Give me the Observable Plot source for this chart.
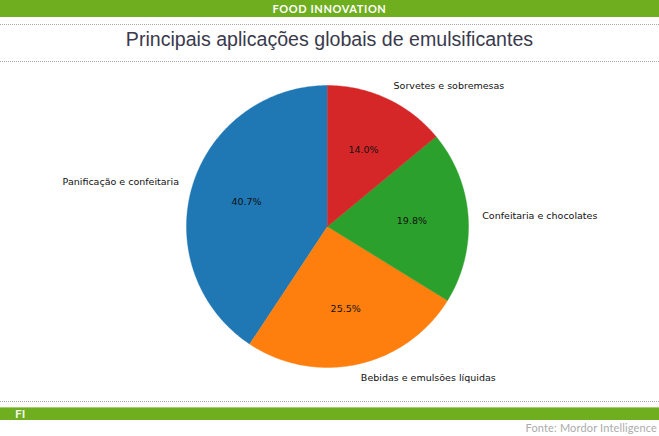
<!DOCTYPE html>
<html>
<head>
<meta charset="utf-8">
<script src="https://cdn.jsdelivr.net/npm/d3@7"></script>
<script src="https://cdn.jsdelivr.net/npm/@observablehq/plot@0.6"></script>
<style>
  html, body { margin: 0; padding: 0; background: #fff; }
  #page { position: relative; width: 659px; height: 436px; overflow: hidden; background: #fff; }
  #hdr { position: absolute; top: 0; left: 0; width: 659px; height: 17px; background: #6fae1f;
         color: #fff; font: bold 11px Lato, "DejaVu Sans", sans-serif; text-align: center; line-height: 17px; letter-spacing: 0.6px; }
  .dot { position: absolute; left: 0; width: 659px; height: 0; border-top: 1px dotted #a8a8a8; }
  #title { position: absolute; top: 30px; left: 0; width: 659px; text-align: center;
           font: 19.6px "Liberation Sans", Arial, sans-serif; line-height: 19.6px; color: #3a3a4c; }
  #chart { position: absolute; top: 62px; left: 0; }
  #ftr { position: absolute; top: 407px; left: 0; width: 659px; height: 13px; background: #6fae1f;
         border-top: 1px solid #a6cf6c; box-sizing: border-box; }
  #fi { position: absolute; left: 15px; top: 0px; color: rgba(255,255,255,0.92); font: bold 12px Lato, sans-serif; line-height: 12px; }
  #src { position: absolute; top: 422px; right: 2px; color: #ababab; font: 11px Lato, sans-serif; line-height: 11px; letter-spacing: 0.15px; }
</style>
</head>
<body>
<div id="page">
  <div id="hdr">FOOD INNOVATION</div>
  <div class="dot" style="top:24px"></div>
  <div id="title">Principais aplicações globais de emulsificantes</div>
  <div class="dot" style="top:61px"></div>
  <div id="chart"></div>
  <div class="dot" style="top:401px"></div>
  <div id="ftr"><span id="fi">FI</span></div>
  <div id="src">Fonte: Mordor Intelligence</div>
</div>
<script>
const categories = ["Panificação e confeitaria", "Bebidas e emulsões líquidas", "Confeitaria e chocolates", "Sorvetes e sobremesas"];
const shares = [40.7, 25.5, 19.8, 14.0];
const colors = ["#1f77b4", "#ff7f0e", "#2ca02c", "#d62728"];

const total = d3.sum(shares);
const rad = Math.PI / 180;
let cum = 0;
const slices = categories.map((c, i) => {
  const a0 = 90 + 360 * cum / total;
  cum += shares[i];
  const a1 = 90 + 360 * cum / total;
  return { cat: c, share: shares[i], a0, a1, mid: (a0 + a1) / 2 };
});

const pts = [];
for (const s of slices) {
  pts.push({ cat: s.cat, x: 0, y: 0 });
  const n = Math.ceil((s.a1 - s.a0) / 0.5);
  for (let k = 0; k <= n; k++) {
    const a = (s.a0 + (s.a1 - s.a0) * k / n) * rad;
    pts.push({ cat: s.cat, x: Math.cos(a), y: Math.sin(a) });
  }
  pts.push({ cat: s.cat, x: 0, y: 0 });
}

const pctLabels = slices.map(s => ({ x: 0.6 * Math.cos(s.mid * rad), y: 0.6 * Math.sin(s.mid * rad), t: s.share.toFixed(1) + "%" }));
const catLabels = slices.map(s => ({ x: 1.1 * Math.cos(s.mid * rad), y: 1.1 * Math.sin(s.mid * rad), t: s.cat, right: Math.cos(s.mid * rad) >= 0 }));

const font = { fontFamily: "DejaVu Sans", fontSize: 9.5, fill: "#111" };

const chart = Plot.plot({
  width: 659,
  height: 338,
  margin: 0,
  x: { domain: [-1, 1], range: [186, 468], axis: null },
  y: { domain: [-1, 1], range: [305, 23], axis: null },
  color: { domain: categories, range: colors },
  style: { background: "transparent", overflow: "visible" },
  marks: [
    Plot.line(pts, { x: "x", y: "y", z: "cat", fill: "cat", stroke: "cat", strokeWidth: 0.4, curve: "linear" }),
    Plot.text(pctLabels, { x: "x", y: "y", text: "t", ...font }),
    Plot.text(catLabels.filter(d => d.right), { x: "x", y: "y", text: "t", textAnchor: "start", ...font }),
    Plot.text(catLabels.filter(d => !d.right), { x: "x", y: "y", text: "t", textAnchor: "end", ...font })
  ]
});
document.getElementById("chart").appendChild(chart);
</script>
</body>
</html>
